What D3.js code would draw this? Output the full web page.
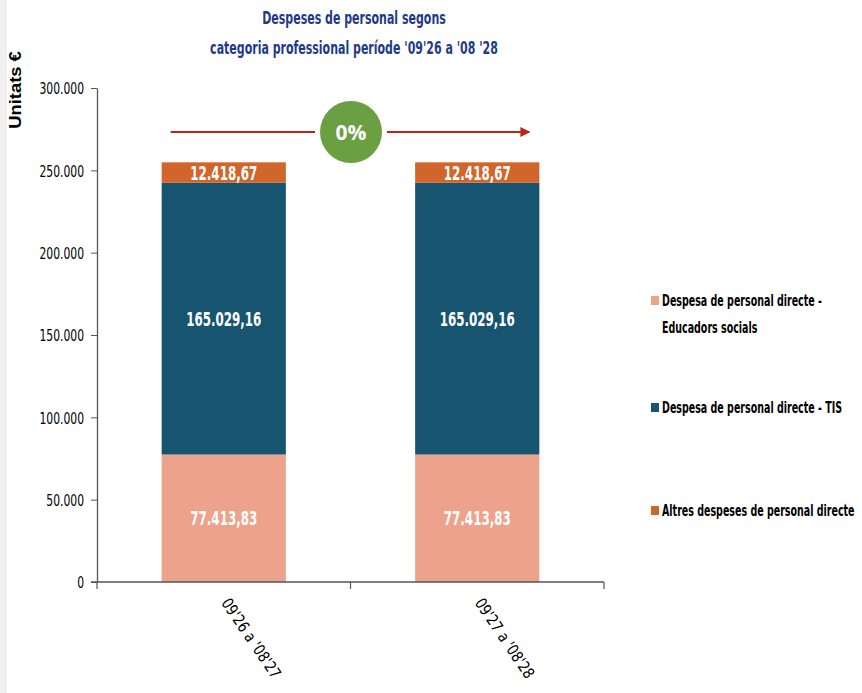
<!DOCTYPE html>
<html>
<head>
<meta charset="utf-8">
<script src="https://cdn.jsdelivr.net/npm/d3@7"></script>
<style>
  body { margin: 0; background: #fff; }
  svg { display: block; }
  .narrow { font-family: "Liberation Sans Narrow", "DejaVu Sans Condensed", sans-serif; }
</style>
</head>
<body>
<svg width="862" height="693"></svg>
<script>
// chart data
const periods = ["09'26 a '08'27", "09'27 a '08'28"];
const seriesNames = [
  "Despesa de personal directe - Educadors socials",
  "Despesa de personal directe - TIS",
  "Altres despeses de personal directe"
];
const educadors = [77413.83, 77413.83];
const tis = [165029.16, 165029.16];
const altres = [12418.67, 12418.67];
const yTicks = [0, 50000, 100000, 150000, 200000, 250000, 300000];
const variation = "0%";

const colors = ["#EDA28B", "#175470", "#D2652B"];

let svg = d3.select("svg");
let margin = { left: 97, right: 258, top: 88, bottom: 111 };
let width = +svg.attr("width") - margin.left - margin.right;
let height = +svg.attr("height") - margin.top - margin.bottom;

// the fonts available are wider than the original, squeeze them horizontally
function squeeze(sel, factor) {
  sel.each(function() {
    let t = d3.select(this);
    let tx = +t.attr("x") || 0;
    let ty = +t.attr("y") || 0;
    let tr = t.attr("transform") || "";
    t.attr("x", 0).attr("y", 0)
      .attr("transform", tr + " translate(" + tx + "," + ty + ") scale(" + factor + ",1)");
  });
}

// grey strip on the left edge
svg.append("rect").attr("x", 0).attr("y", 0).attr("width", 7).attr("height", 693).attr("fill", "#f0f0f0");

let g = svg.append("g").attr("transform", "translate(" + margin.left + "," + margin.top + ")");

let loc = d3.formatLocale({ decimal: ",", thousands: ".", grouping: [3], currency: ["", " €"] });
let fmtTick = loc.format(",d");
let fmtVal = loc.format(",.2f");

let rows = periods.map(function(p, i) {
  return { period: p, s0: educadors[i], s1: tis[i], s2: altres[i] };
});
let stack = d3.stack().keys(["s0", "s1", "s2"]);
let layers = stack(rows);

let x = d3.scaleBand().domain(periods).range([0, width]).paddingInner(0.51).paddingOuter(0.255);
let xOuter = d3.scaleBand().domain(periods).range([0, width]);
let y = d3.scaleLinear().domain([0, 300000]).range([height, 0]);

// title
let titleLines = ["Despeses de personal segons", "categoria professional període '09'26 a '08 '28"];
svg.selectAll(".title").data(titleLines).enter().append("text")
  .attr("class", "narrow title").attr("text-anchor", "middle")
  .attr("x", 354).attr("y", function(d, i) { return 24 + i * 30; })
  .attr("fill", "#1F3A87").attr("font-weight", "bold").attr("font-size", "18px")
  .text(function(d) { return d; })
  .call(squeeze, 0.68);

// y axis title
svg.append("text")
  .attr("transform", "translate(21,90) rotate(-90)")
  .attr("text-anchor", "middle")
  .attr("font-family", "Liberation Sans, Arial, sans-serif")
  .attr("font-weight", "bold").attr("font-size", "16px")
  .text("Unitats €")
  .call(squeeze, 1.15);

// bars
layers.forEach(function(layer, k) {
  g.selectAll(".bar" + k)
    .data(layer)
    .enter()
    .append("rect")
    .attr("x", function(d) { return x(d.data.period); })
    .attr("y", function(d) { return y(d[1]); })
    .attr("width", x.bandwidth())
    .attr("height", function(d) { return y(d[0]) - y(d[1]); })
    .attr("fill", colors[k]);

  g.selectAll(".lbl" + k)
    .data(layer)
    .enter()
    .append("text")
    .attr("class", "narrow")
    .attr("x", function(d) { return x(d.data.period) + x.bandwidth() / 2; })
    .attr("y", function(d) { return (y(d[0]) + y(d[1])) / 2; })
    .attr("dy", "0.36em")
    .attr("text-anchor", "middle")
    .attr("fill", "#fff").attr("font-weight", "bold").attr("font-size", "20px")
    .text(function(d) { return fmtVal(d[1] - d[0]); })
    .call(squeeze, 0.66);
});

// y axis
let yAxis = g.append("g")
  .call(d3.axisLeft(y).tickValues(yTicks).tickFormat(fmtTick).tickSize(6).tickSizeOuter(0));
yAxis.select(".domain").attr("stroke", "#555").attr("stroke-width", 1.3);
yAxis.selectAll(".tick line").attr("stroke", "#555");
yAxis.selectAll(".tick text").attr("class", "narrow").attr("font-size", "16px").attr("fill", "#000")
  .attr("x", -13).attr("dy", "0.36em")
  .call(squeeze, 0.75);

// x axis
let xAxisG = g.append("g").attr("transform", "translate(0," + height + ")");
xAxisG.append("line").attr("x1", -6).attr("x2", width).attr("y1", 0).attr("y2", 0)
  .attr("stroke", "#555").attr("stroke-width", 1.5);
let edges = [0].concat(periods.map(function(p) { return xOuter(p) + xOuter.bandwidth(); }));
xAxisG.selectAll(".xtick").data(edges).enter().append("line")
  .attr("x1", function(d) { return d; }).attr("x2", function(d) { return d; })
  .attr("y1", 0).attr("y2", 7).attr("stroke", "#555").attr("stroke-width", 1.2);
xAxisG.selectAll(".xlab").data(periods).enter().append("text")
  .attr("class", "narrow")
  .attr("transform", function(d) {
    return "translate(" + (xOuter(d) + xOuter.bandwidth() / 2 - 3) + ",21) rotate(56)";
  })
  .attr("font-size", "16px").attr("fill", "#000")
  .text(function(d) { return d; })
  .call(squeeze, 0.9);

// variation arrow with circle
let yArrow = 132 - margin.top;
let x0 = x(periods[0]) + 9;
let x1 = x(periods[1]) + x.bandwidth() - 10;
let cx = (x0 + x1) / 2 + 1;
let r = 31;
svg.append("defs").append("marker")
  .attr("id", "arrowhead").attr("viewBox", "0 0 10 10").attr("refX", 9).attr("refY", 5)
  .attr("markerWidth", 5).attr("markerHeight", 5).attr("orient", "auto")
  .append("path").attr("d", "M0,0L10,5L0,10Z").attr("fill", "#C0221A");
g.append("line").attr("x1", x0).attr("x2", cx - r - 5).attr("y1", yArrow).attr("y2", yArrow)
  .attr("stroke", "#C0221A").attr("stroke-width", 2);
g.append("line").attr("x1", cx + r + 5).attr("x2", x1).attr("y1", yArrow).attr("y2", yArrow)
  .attr("stroke", "#C0221A").attr("stroke-width", 2).attr("marker-end", "url(#arrowhead)");
g.append("circle").attr("cx", cx).attr("cy", yArrow).attr("r", r).attr("fill", "#6AA041");
g.append("text").attr("x", cx).attr("y", yArrow).attr("dy", "0.36em")
  .attr("text-anchor", "middle").attr("fill", "#fff").attr("font-weight", "bold")
  .attr("font-family", "Open Sans, sans-serif").attr("font-size", "21px")
  .text(variation);

// legend
let legendLines = [
  ["Despesa de personal directe -", "Educadors socials"],
  ["Despesa de personal directe - TIS"],
  ["Altres despeses de personal directe"]
];
let legendY = [306, 413, 516];
let legend = svg.append("g").attr("class", "legend");
seriesNames.forEach(function(name, i) {
  let row = legend.append("g").attr("transform", "translate(651," + legendY[i] + ")");
  row.append("rect").attr("x", 0).attr("y", -10).attr("width", 8).attr("height", 9).attr("fill", colors[i]);
  row.selectAll("text").data(legendLines[i]).enter().append("text")
    .attr("class", "narrow").attr("font-weight", "bold")
    .attr("font-size", "16px").attr("fill", "#000")
    .attr("x", 11).attr("y", function(d, j) { return j * 27; })
    .text(function(d) { return d; })
    .call(squeeze, 0.66);
});
</script>
</body>
</html>
